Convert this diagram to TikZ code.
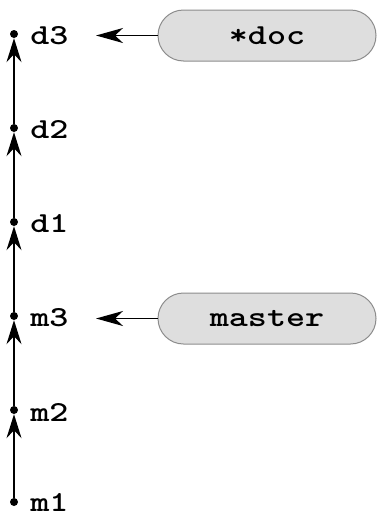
\documentclass[tikz,border=0pt]{standalone}
\usepackage{fontspec}
\newfontfamily\codefont{lmmonolt10-bold.otf}[FakeStretch=1.25]
\usepackage{tikz}
\usetikzlibrary{arrows.meta,shapes.misc,positioning}

\definecolor{pillfill}{RGB}{222,222,222}
\definecolor{pillline}{RGB}{140,140,140}

\tikzset{
  commit/.style={shape=circle,fill=black,inner sep=0pt,minimum size=8pt},
  clabel/.style={font=\codefont\fontsize{29}{30}\selectfont,inner sep=0pt},
  branch/.style={shape=rounded rectangle,draw=pillline,fill=pillfill,line width=1pt,
    minimum width=218pt,minimum height=51pt,inner sep=0pt,
    font=\codefont\fontsize{29}{30}\selectfont},
  parent/.style={-{Stealth[length=24pt,width=15pt,inset=8pt]},line width=1.6pt},
  pointer/.style={-{Stealth[length=27pt,width=15pt,inset=8pt]},line width=1.6pt}
}

\begin{document}
\begin{tikzpicture}[x=1pt,y=-1pt]
\useasboundingbox (0,0) rectangle (378,517);

\node(d3) at (14,34)[commit]        {};
\node(d2) at (14,128)[commit]       {};
\node(d1) at (14,222)[commit]       {};
\node(m3) at (14,316)[commit]       {};
\node(m2) at (14,410)[commit]       {};
\node(m1) at (14,502)[commit]       {};

\node[clabel,right=12pt of d3,yshift=-2pt] (ld3) {d3};
\node[clabel,right=12pt of d2,yshift=-2pt] (ld2) {d2};
\node[clabel,right=12pt of d1,yshift=-2pt] (ld1) {d1};
\node[clabel,right=12pt of m3,yshift=-2pt] (lm3) {m3};
\node[clabel,right=12pt of m2,yshift=-2pt] (lm2) {m2};
\node[clabel,right=12pt of m1] (lm1) {m1};

\node(doc) at (267,35.5)[branch]    {*doc};
\node(master) at (267,318.5)[branch] {master};
\coordinate (tdoc) at (96,35.5);
\coordinate (tmaster) at (96,318.5);

\path [parent]
  (m1)      edge     (m2)
  (m2)      edge     (m3)
  (m3)      edge     (d1)
  (d1)      edge     (d2)
  (d2)      edge     (d3);

\path [pointer]
  (doc)     edge     (tdoc)
  (master)  edge     (tmaster);

\end{tikzpicture}
\end{document}
